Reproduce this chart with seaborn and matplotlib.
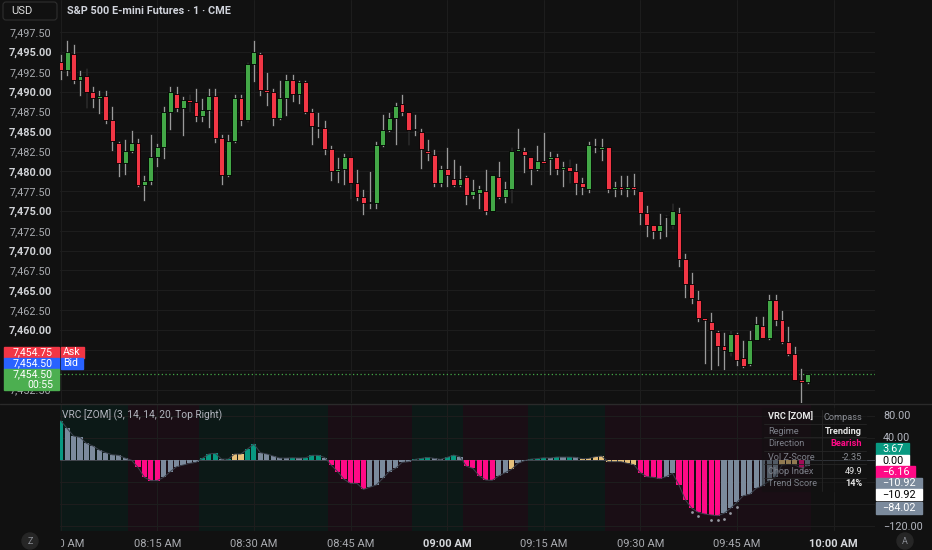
import numpy as np
import pandas as pd
import matplotlib.pyplot as plt
import seaborn as sns
from matplotlib.patches import Rectangle, FancyBboxPatch, Circle
from matplotlib.lines import Line2D
from matplotlib.transforms import Affine2D

# 1-minute bars, 08:00 -> 09:56
opens = [7493.75, 7492.75, 7494.75, 7491.5, 7492.0, 7490.0, 7489.25, 7489.5, 7486.5, 7483.5,
         7481.0, 7482.5, 7483.5, 7478.25, 7478.75, 7481.75, 7483.0, 7487.5, 7489.75, 7488.0,
         7489.0, 7488.75, 7487.0, 7487.75, 7489.5, 7484.25, 7479.5, 7483.75, 7489.25, 7486.5,
         7493.5, 7494.75, 7490.25, 7490.0, 7486.75, 7489.25, 7491.5, 7489.75, 7491.25, 7487.5,
         7485.5, 7485.5, 7482.75, 7480.0, 7480.25, 7481.75, 7478.5, 7476.75, 7476.0, 7476.0,
         7483.25, 7485.25, 7486.75, 7488.5, 7487.5, 7485.25, 7485.0, 7482.5, 7482.0, 7478.5,
         7480.25, 7479.0, 7478.25, 7479.25, 7477.0, 7477.25, 7477.5, 7475.0, 7479.25, 7476.75,
         7477.75, 7482.5, 7482.5, 7481.75, 7480.25, 7481.25, 7481.5, 7481.75, 7480.25, 7480.5,
         7480.0, 7478.5, 7477.75, 7483.0, 7482.75, 7483.0, 7477.75, 7478.0, 7477.75, 7478.0,
         7477.5, 7474.75, 7473.25, 7472.5, 7474.25, 7473.25, 7474.75, 7469.0, 7465.75, 7463.75,
         7461.5, 7461.0, 7459.75, 7458.0, 7457.25, 7459.5, 7456.5, 7455.75, 7458.75, 7460.5,
         7459.0, 7463.75, 7461.25, 7458.5, 7457.0, 7453.75, 7453.5]
highs = [7494.75, 7496.5, 7496.0, 7492.75, 7493.0, 7490.75, 7490.25, 7490.25, 7488.25, 7483.75,
         7484.0, 7485.25, 7484.25, 7479.5, 7484.75, 7483.5, 7488.25, 7490.75, 7490.75, 7489.5,
         7489.75, 7490.5, 7489.25, 7490.5, 7490.5, 7484.75, 7484.75, 7489.75, 7489.75, 7493.75,
         7496.5, 7495.0, 7492.5, 7490.5, 7491.5, 7492.25, 7492.25, 7491.5, 7491.5, 7488.0,
         7487.5, 7486.5, 7483.25, 7481.75, 7482.25, 7481.75, 7480.25, 7477.75, 7480.0, 7483.75,
         7487.25, 7487.5, 7488.75, 7489.75, 7487.5, 7487.25, 7485.5, 7484.0, 7482.75, 7480.75,
         7483.0, 7481.5, 7480.75, 7479.5, 7479.0, 7478.25, 7480.25, 7479.5, 7481.25, 7478.75,
         7483.0, 7485.5, 7483.0, 7481.75, 7483.25, 7485.0, 7482.5, 7482.25, 7481.25, 7481.5,
         7481.0, 7479.25, 7483.75, 7484.25, 7484.25, 7483.0, 7478.75, 7479.5, 7479.5, 7479.75,
         7477.5, 7475.75, 7473.25, 7474.75, 7474.5, 7476.0, 7475.5, 7469.75, 7467.25, 7465.0,
         7461.5, 7462.25, 7460.0, 7459.75, 7460.0, 7459.75, 7458.75, 7460.0, 7461.75, 7461.75,
         7464.5, 7464.5, 7462.5, 7460.5, 7458.0, 7455.25, 7454.5]
lows = [7491.5, 7492.0, 7491.0, 7489.5, 7488.0, 7488.0, 7487.25, 7486.0, 7482.5, 7479.25,
        7479.5, 7482.25, 7478.0, 7476.25, 7478.25, 7480.5, 7481.5, 7485.25, 7487.5, 7484.5,
        7487.5, 7486.25, 7486.25, 7485.5, 7483.5, 7478.25, 7479.25, 7483.5, 7485.75, 7486.25,
        7491.25, 7489.5, 7488.25, 7485.75, 7486.5, 7487.0, 7488.75, 7488.5, 7487.25, 7483.25,
        7484.25, 7482.0, 7478.75, 7478.5, 7478.25, 7476.5, 7476.25, 7474.5, 7475.25, 7475.25,
        7483.0, 7485.0, 7483.25, 7487.0, 7483.25, 7484.5, 7480.25, 7481.25, 7478.0, 7478.0,
        7478.0, 7478.0, 7478.0, 7475.75, 7476.5, 7475.25, 7474.5, 7475.0, 7476.5, 7476.0,
        7476.0, 7482.5, 7479.75, 7478.25, 7480.0, 7481.0, 7479.5, 7479.5, 7478.0, 7478.5,
        7477.0, 7477.0, 7477.25, 7482.25, 7481.25, 7477.25, 7476.75, 7477.0, 7476.75, 7477.0,
        7473.25, 7471.75, 7471.5, 7471.5, 7471.75, 7472.75, 7468.0, 7464.0, 7463.25, 7461.0,
        7455.75, 7455.0, 7455.5, 7455.0, 7456.75, 7455.5, 7455.25, 7455.5, 7458.75, 7459.0,
        7458.75, 7460.5, 7458.25, 7456.75, 7453.75, 7450.75, 7453.25]
closes = [7492.75, 7495.0, 7491.5, 7492.0, 7490.0, 7489.25, 7489.5, 7486.5, 7483.75, 7481.0,
          7482.5, 7483.5, 7478.25, 7478.75, 7481.75, 7483.0, 7487.5, 7490.0, 7488.0, 7489.0,
          7488.75, 7487.0, 7487.75, 7489.5, 7484.25, 7479.5, 7483.75, 7489.25, 7486.5, 7493.5,
          7495.0, 7490.25, 7490.0, 7486.75, 7489.25, 7491.5, 7489.75, 7491.25, 7487.5, 7485.75,
          7485.5, 7482.75, 7480.0, 7480.25, 7481.75, 7478.5, 7476.75, 7476.0, 7476.0, 7483.25,
          7485.25, 7486.75, 7488.25, 7487.5, 7485.25, 7485.25, 7482.75, 7482.25, 7478.5, 7480.25,
          7479.5, 7478.25, 7479.0, 7477.0, 7477.5, 7477.75, 7475.0, 7479.5, 7476.75, 7477.75,
          7482.5, 7482.75, 7482.0, 7480.25, 7481.25, 7481.0, 7481.75, 7480.25, 7480.5, 7480.0,
          7478.5, 7478.0, 7483.25, 7483.0, 7483.0, 7477.75, 7478.0, 7477.75, 7478.0, 7477.75,
          7474.75, 7473.25, 7472.5, 7473.25, 7474.25, 7475.0, 7469.0, 7465.75, 7464.0, 7461.5,
          7461.25, 7460.0, 7458.0, 7457.5, 7459.5, 7456.25, 7455.5, 7458.75, 7460.75, 7459.0,
          7463.75, 7461.25, 7458.5, 7457.0, 7453.75, 7453.5, 7454.5]

time_labels = ["08:00 AM", "08:15 AM", "08:30 AM", "08:45 AM", "09:00 AM",
               "09:15 AM", "09:30 AM", "09:45 AM", "10:00 AM"]

# VRC oscillator histogram
vrc = [71, 57, 43, 40.7, 29.8, 25, 17.6, 12.8, 9, 8,
       3, -1, -13.9, -32, -38, -38, -32, -21.8, -12.7, -9.7,
       -6.6, -4.8, 2.5, 10.4, 11.6, 1, 1, 10.4, 10.4, 19.5,
       28.5, 12.8, 10.4, 6.7, 3, 3, 3.5, 3, 3.5, 8,
       8, 4, -9.7, -21.8, -35.7, -43, -43, -54, -50, -46,
       -34, -21.8, -15.7, -4.8, -3.6, 0.6, 2.4, 4.2, 2.4, 0.6,
       4.2, 8.5, 5.5, -12, -15.7, -29.6, -36.9, -37.5, -29.6, -23.6,
       -17.6, -6.7, -1.8, 1, 2, 3.6, 3, 4.8, 4.8, 4.8,
       4.2, 1.8, 2.4, 5.5, 6.7, -3.6, -3.6, -3.6, -6.7, -9,
       -23.6, -30.9, -32, -34.5, -30.9, -24.8, -46, -73, -88.4, -95.7,
       -98.7, -100.5, -101.8, -97.5, -88.4, -77.5, -65.4, -62.9, -52, -47.2,
       -38.7, -30.9, -9.6, -8.5, -9.6, -15.6, -10.92]
# t = teal, g = gray, m = magenta, y = tan
vrc_kind = ("t" + "gggggggggg" + "mmmmm" + "gggggg" + "tttgtyyttgggggtgtttg" + "mmmmmm"
            + "ggggggg" + "tttggttg" + "mmmmm" + "ggygg" + "tttgtgtg" + "yyyyyyyyy"
            + "mmmm" + "gg" + "mmmmmmm" + "ggggggggg" + "yyy" + "m" + "g")
# background regime per bar: u = bullish, d = bearish
regime = ("uuuuuuuuuuu" + "ddddddddddd" + "uuuuuuuuuuuuuuuuuuuu" + "ddddddddddddd"
          + "uuuuuuuu" + "dddddddddd" + "uuuuuuuuuuuu" + "dddddddddddddddddddddddddddddddd")
dot_idx = [98, 99, 101, 102, 103, 104, 105]
dot_val = [-95, -103, -109, -109, -108, -96, -86]

table_rows = [("VRC [ZOM]", "Compass"), ("Regime", "Trending"), ("Direction", "Bearish"),
              ("Vol Z-Score", "-2.35"), ("Chop Index", "49.9"), ("Trend Score", "14%")]
right_marks = [("3.67", "#089981", "white"), ("0.00", "#ffffff", "black"),
               ("\u22126.16", "#ff0a86", "white"), ("\u221210.92", "#7b8a9c", "white"),
               ("\u221210.92", "#ffffff", "black"), ("\u221284.02", "#7b8a9c", "white")]

BG = "#111111"
GRID = "#1d1d1d"
GREEN = "#43a847"
RED = "#f23645"
PAL = {"t": "#089981", "g": "#7b8a9c", "m": "#ff0a86", "y": "#e6c07b"}
BAND = {"u": "#0c1917", "d": "#1a0e15"}

sns.set_style("dark")
plt.rcParams["font.family"] = ["Roboto", "DejaVu Sans"]

W, H = 932, 550
fig = plt.figure(figsize=(W / 100, H / 100), dpi=100, facecolor=BG)
px = Affine2D().scale(1 / W, -1 / H).translate(0, 1) + fig.transFigure

ax = fig.add_axes([60 / W, 1 - 403 / H, 815 / W, 403 / H])
ax2 = fig.add_axes([60 / W, 1 - 531 / H, 815 / W, 127 / H])

# ---- price pane
bars = pd.DataFrame({"o": opens, "h": highs, "l": lows, "c": closes})
bars["i"] = np.arange(len(bars))
col = np.where(bars.c > bars.o, GREEN, np.where(bars.c < bars.o, RED, "#8c8c8c"))
lo = np.minimum(bars.o, bars.c)
body = np.maximum((bars.c - bars.o).abs(), 0.12)
ax.set_facecolor(BG)
ax.bar(bars.i, bars.h - bars.l, bottom=bars.l, width=0.3, color="#9a9a9a",
       edgecolor="#000000", linewidth=0.4, zorder=2)
ax.bar(bars.i, body, bottom=lo, width=0.76, color=col, edgecolor="#000000",
       linewidth=0.6, zorder=3)
ax.axhline(closes[-1], color=GREEN, lw=0.9, ls=(0, (1, 2)), zorder=1)

ax.set_xlim(-0.11, 126.44)
ax.set_ylim(7450.81, 7501.57)
prices = np.arange(7452.5, 7498, 2.5)
ax.set_yticks(prices)
# 7,457.50 and 7,455.00 sit under the bid/ask/last tags
ax.set_yticklabels(["" if p in (7455, 7457.5) else f"{p:,.2f}" for p in prices])
ax.tick_params(axis="y", labelcolor="#a9abb0", labelsize=7.8, length=0, pad=6)
for t, p in zip(ax.get_yticklabels(), prices):
    if p % 5 == 0:
        t.set_fontweight("bold")
        t.set_color("#d0d2d6")
ax.set_xticks(range(0, 121, 15))
ax.tick_params(axis="x", labelbottom=False, length=0)
ax.grid(True, color=GRID, lw=0.8)
ax.set_axisbelow(True)
for s in ax.spines.values():
    s.set_visible(False)

# ---- VRC pane
ax2.set_facecolor(BG)
start = 0
for k in range(1, len(regime) + 1):
    if k == len(regime) or regime[k] != regime[start]:
        ax2.axvspan(start - 0.5, k - 0.5, color=BAND[regime[start]], lw=0, zorder=0)
        start = k

vrc_df = pd.DataFrame({"i": np.arange(len(vrc)), "v": vrc, "k": list(vrc_kind)})
sns.barplot(data=vrc_df, x="i", y="v", hue="k", palette=PAL, dodge=False, native_scale=True,
            width=0.8, errorbar=None, legend=False, saturation=1, linewidth=0, ax=ax2, zorder=3)
ax2.plot(vrc_df.i, vrc_df.v, color="#3c424d", lw=0.7, zorder=4)
ax2.axhline(0, color="#4a4f58", lw=0.6, zorder=2)
ax2.scatter(dot_idx, dot_val, s=4, color="#9598a1", zorder=4, linewidths=0)

ax2.set_xlim(-0.11, 126.44)
ax2.set_ylim(-129.6, 101.3)
ax2.set_yticks([80, 40, 0, -40, -80, -120])
ax2.tick_params(axis="y", labelleft=False, length=0)
ax2.set_xticks(range(0, 121, 15))
ax2.set_xticklabels(time_labels)
ax2.tick_params(axis="x", labelcolor="#a9abb0", labelsize=8, length=0, pad=6)
for t, s in zip(ax2.get_xticklabels(), time_labels):
    if s in ("09:00 AM", "10:00 AM"):
        t.set_fontweight("bold")
        t.set_color("#d6d8dc")
ax2.set_xlabel("")
ax2.set_ylabel("")
ax2.grid(True, color=GRID, lw=0.8)
ax2.set_axisbelow(True)
for s in ax2.spines.values():
    s.set_visible(False)

# ---- overlays
fig.add_artist(Line2D([0, W], [403.5, 403.5], transform=px, color="#2a2a2a", lw=1))
fig.add_artist(Rectangle((0, 532), 59.5, 18, transform=px, color=BG, zorder=5))
for cx, s in [(30, "Z"), (905, "A")]:
    fig.add_artist(Circle((cx, 541), 8, transform=px, color="#262626", zorder=6))
    fig.text(cx, 541, s, transform=px, ha="center", va="center", fontsize=6.5,
             color="#8a8d94", zorder=7)

fig.add_artist(FancyBboxPatch((3, 2), 54, 18, boxstyle="round,pad=0,rounding_size=3",
                              transform=px, facecolor=BG, edgecolor="#2e2e2e", lw=0.8))
fig.text(11, 11.5, "USD", transform=px, va="center", fontsize=8, color="#e0e0e0")
fig.text(67, 11.5, "S&P 500 E-mini Futures \u00b7 1 \u00b7 CME", transform=px, va="center",
         fontsize=7.8, color="#d1d4dc", fontweight="bold")
fig.text(62, 415, "VRC [ZOM] (3, 14, 14, 20, Top Right)", transform=px, va="center",
         fontsize=7.3, color="#b2b5be")

# bid / ask / last
for y0, y1, fc, txt, tag, tagw in [(346.5, 357.5, RED, "7,454.75", "Ask", 23.5),
                                   (358, 368.5, "#2962ff", "7,454.50", "Bid", 22)]:
    fig.add_artist(Rectangle((4, y0), 55, y1 - y0, transform=px, color=fc, zorder=5))
    fig.add_artist(Rectangle((60.5, y0), tagw, y1 - y0, transform=px, color=fc, zorder=5))
    fig.text(53, (y0 + y1) / 2, txt, transform=px, ha="right", va="center", fontsize=7.6,
             color="white", zorder=6)
    fig.text(63, (y0 + y1) / 2, tag, transform=px, va="center", fontsize=7.6,
             color="white", zorder=6)
fig.add_artist(Rectangle((4, 369), 55, 20.5, transform=px, color="#4caf50", zorder=5))
fig.text(53, 374.5, "7,454.50", transform=px, ha="right", va="center", fontsize=7.6,
         color="white", zorder=6)
fig.text(53, 384.5, "00:55", transform=px, ha="right", va="center", fontsize=7.6,
         color="white", zorder=6)

# right scale of the VRC pane
for yy, s in [(415.7, "80.00"), (437.7, "40.00"), (526.7, "\u2212120.00")]:
    fig.text(883, yy, s, transform=px, va="center", fontsize=7.8, color="#b2b5be")
mark_y = [443, 455, 466, 477.5, 489, 502]
mark_h = [12, 11, 11.5, 11.5, 11, 11.5]
mark_w = [33, 33, 39, 46, 46, 46]
for (s, fc, tc), yy, hh, ww in zip(right_marks, mark_y, mark_h, mark_w):
    fig.add_artist(Rectangle((876, yy), ww, hh, transform=px, color=fc, zorder=5))
    fig.text(882, yy + hh / 2, s, transform=px, va="center", fontsize=7.8, color=tc, zorder=6)

# info table
fig.add_artist(Rectangle((762, 408), 104, 83, transform=px, color="#121212", alpha=0.4, zorder=5))
for r in range(1, 6):
    yy = 410.5 + 13.4 * r
    fig.add_artist(Line2D([764, 866], [yy, yy], transform=px, color="#262626", lw=0.6, zorder=5))
fig.add_artist(Line2D([822, 822], [410, 491], transform=px, color="#262626", lw=0.6, zorder=5))
row_y = [417, 431, 444, 457.5, 471, 484]
val_col = ["#8a8d94", "#e6e6e6", "#ff0a86", "#8a8d94", "#e6e6e6", "#e6e6e6"]
for (lab, val), yy, vc, k in zip(table_rows, row_y, val_col, range(6)):
    fig.text(768, yy, lab, transform=px, va="center", fontsize=6.6, zorder=6,
             color="#e6e6e6" if k == 0 else "#7d8089", fontweight="bold" if k == 0 else "normal")
    fig.text(862, yy, val, transform=px, va="center", ha="right", fontsize=6.6, zorder=6,
             color=vc, fontweight="bold" if k in (1, 2, 5) else "normal")

fig.savefig("out.png", dpi=100, facecolor=BG)
